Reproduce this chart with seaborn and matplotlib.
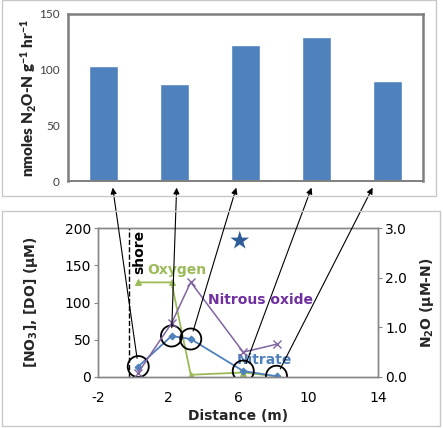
import matplotlib
matplotlib.use("Agg")
import matplotlib.pyplot as plt
import seaborn as sns
import pandas as pd
from matplotlib.patches import ConnectionPatch, Rectangle

# top panel: N2O production per sample
sample_ids = ["S1", "S2", "S3", "S4", "S5"]
n2o_rate = [103, 87, 122, 129, 90]

# bottom panel: transect profiles
distance = [0.3, 2.2, 3.3, 6.3, 8.2]
oxygen = [127, 127, 3, 6, 1]
nitrate = [14, 55, 51, 8, 1]
nitrous_oxide = [0.09, 1.08, 1.91, 0.50, 0.66]
star_x = [6.1]
star_y = [183]
shore_x = -0.25

BLUE = "#4F81BD"
GREEN = "#9BBB59"
PURPLE = "#8064A2"
GRAY = "#868686"
FS = 10

sns.set_style("white")
plt.rcParams["font.family"] = ["DejaVu Sans"]
plt.rcParams["mathtext.default"] = "regular"
plt.rcParams["axes.unicode_minus"] = False

fig = plt.figure(figsize=(4.43, 4.28), dpi=100)
W, H = 443, 428


def box(x0, y0, x1, y1):
    # panel frame in pixel coords (y from top)
    fig.patches.append(Rectangle((x0 / W, 1 - y1 / H), (x1 - x0) / W, (y1 - y0) / H,
                                 transform=fig.transFigure, fill=False,
                                 edgecolor="#c8c8c8", linewidth=1.0))


box(2, 0, 436, 196)
box(2, 211, 440, 426)

# ---- top bar chart
ax1 = fig.add_axes([68 / W, 1 - 181 / H, 355 / W, 167 / H])
df_bar = pd.DataFrame({"sample": sample_ids, "rate": n2o_rate})
sns.barplot(data=df_bar, x="sample", y="rate", color=BLUE, saturation=1,
            width=0.4, ax=ax1)
ax1.set_ylim(0, 150)
ax1.set_yticks([0, 50, 100, 150])
ax1.set_xticks([])
ax1.set_xlabel("")
ax1.set_ylabel("nmoles N$_2$O-N g$^{-1}$ hr$^{-1}$", fontsize=11, fontweight="heavy",
               family=["Lato", "DejaVu Sans"], labelpad=0)
ax1.tick_params(axis="y", labelsize=8.5, colors="#404040", length=0, pad=6)
for lab in ax1.get_yticklabels():
    lab.set_family(["Lato", "DejaVu Sans"])
for side, sp in ax1.spines.items():
    sp.set_visible(True)
    sp.set_color("#7f7f7f")
    sp.set_linewidth(1.8 if side != "bottom" else 1.4)

# ---- bottom line chart
ax2 = fig.add_axes([98 / W, 1 - 377 / H, 280 / W, 149 / H])
ax3 = ax2.twinx()

df = pd.DataFrame({"distance": distance, "oxygen": oxygen,
                   "nitrate": nitrate, "n2o": nitrous_oxide})

ax2.plot([shore_x, shore_x], [0, 200], color="black", linestyle="--", linewidth=1.0)
sns.lineplot(data=df, x="distance", y="oxygen", color=GREEN, marker="^",
             markersize=5, markeredgecolor=GREEN, linewidth=1.3, sort=False, ax=ax2)
sns.lineplot(data=df, x="distance", y="nitrate", color=BLUE, marker="D",
             markersize=3.5, markeredgecolor=BLUE, linewidth=1.3, sort=False, ax=ax2)
sns.lineplot(data=df, x="distance", y="n2o", color=PURPLE, marker="x",
             markersize=6, markeredgewidth=1.0, markeredgecolor=PURPLE,
             linewidth=1.1, sort=False, ax=ax3)
sns.scatterplot(x=star_x, y=star_y, marker="*", s=200, color="#2E5C96",
                edgecolor="none", ax=ax2)
sns.scatterplot(data=df, x="distance", y="nitrate", marker="o", s=230,
                facecolor="none", edgecolor="black", linewidth=1.3, ax=ax2, zorder=5)

ax2.set_xlim(-2, 14)
ax2.set_ylim(0, 200)
ax3.set_ylim(0, 3.0)
ax2.set_xticks([-2, 2, 6, 10, 14])
ax2.set_yticks([0, 50, 100, 150, 200])
ax3.set_yticks([0, 1, 2, 3])
ax3.set_yticklabels(["0.0", "1.0", "2.0", "3.0"])
ax2.set_xlabel("Distance (m)", fontsize=FS, fontweight="bold", labelpad=3)
ax2.set_ylabel("[NO$_3$], [DO] (μM)", fontsize=FS, fontweight="bold", labelpad=18)
ax3.set_ylabel("N$_2$O (μM-N)", fontsize=FS, fontweight="bold", labelpad=8)
for a in (ax2, ax3):
    a.tick_params(labelsize=FS, colors="black", length=3, width=0.8,
                  color=GRAY, direction="out", pad=2)
    for sp in a.spines.values():
        sp.set_visible(True)
        sp.set_color(GRAY)
        sp.set_linewidth(1.0)
ax2.tick_params(axis="x", pad=7)

ax2.text(shore_x + 0.6, 198, "shore", rotation=90, ha="center", va="top",
         fontsize=FS, fontweight="bold", color="black")
ax2.text(2.5, 143, "Oxygen", ha="center", va="center", fontsize=FS,
         fontweight="bold", color=GREEN)
ax2.text(7.3, 104, "Nitrous oxide", ha="center", va="center", fontsize=FS,
         fontweight="bold", color="#7030A0")
ax2.text(7.5, 23, "Nitrate", ha="center", va="center", fontsize=FS,
         fontweight="bold", color=BLUE)

# arrows from sampling points up to their bars
tip_offset = [0.13, 0.03, -0.13, -0.07, -0.21]
for i, (xd, yd) in enumerate(zip(distance, nitrate)):
    con = ConnectionPatch(xyA=(xd, yd), coordsA=ax2.transData,
                          xyB=(i + tip_offset[i], -6), coordsB=ax1.transData,
                          arrowstyle="-|>", mutation_scale=9, shrinkA=6, shrinkB=0,
                          color="black", linewidth=0.8)
    con.set_clip_on(False)
    fig.add_artist(con)

fig.savefig("out.png", dpi=100)
